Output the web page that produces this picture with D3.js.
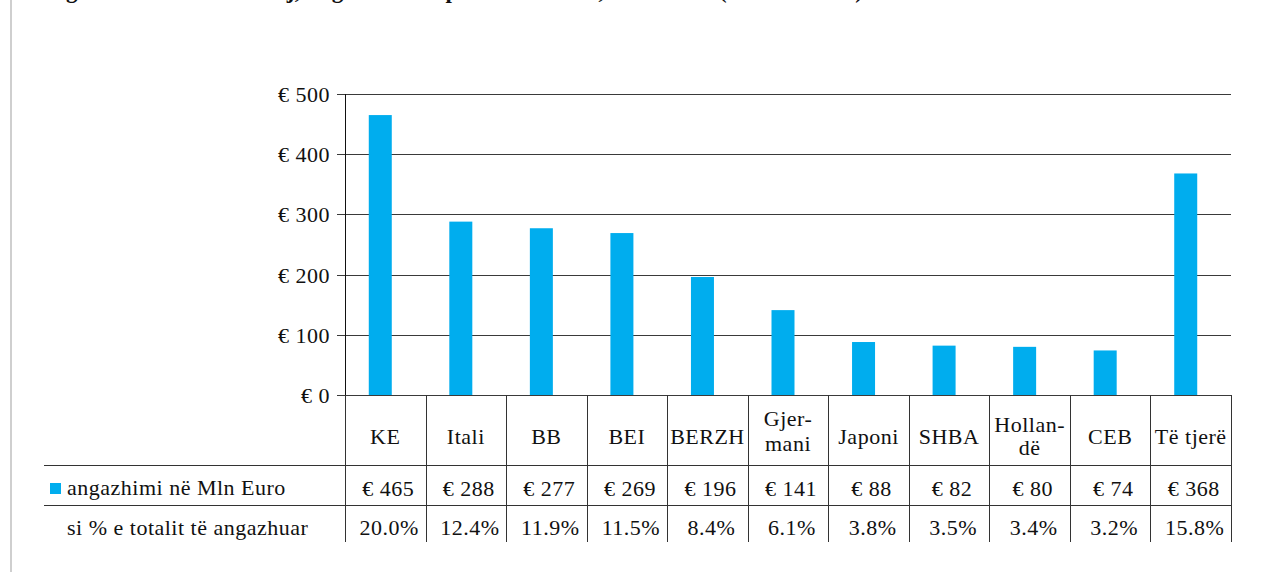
<!DOCTYPE html>
<html lang='sq'>
<head>
  <meta charset='UTF-8'>
  <title>Angazhimet sipas donatorëve</title>
  <style>
  body {
    margin: 0;
    background: #fff;
  }
  text {
    font-family: 'Liberation Serif', 'DejaVu Serif', serif;
    font-size: 22px;
    letter-spacing: 0.5px;
    fill: #111;
  }
  .title {
    font-weight: bold;
    font-size: 23px;
    letter-spacing: 0.3px;
  }
  .grid line {
    stroke: #3a3a3a;
  }
  .table line {
    stroke: #333;
  }
  </style>
  <script src='https://d3js.org/d3.v7.min.js'></script>
</head>
<body>
  <script>

  var categories = ['KE', 'Itali', 'BB', 'BEI', 'BERZH', 'Gjer-|mani', 'Japoni', 'SHBA', 'Hollan-|dë', 'CEB', 'Të tjerë'];
  var commitments = [465, 288, 277, 269, 196, 141, 88, 82, 80, 74, 368];
  var shares = ['20.0%', '12.4%', '11.9%', '11.5%', '8.4%', '6.1%', '3.8%', '3.5%', '3.4%', '3.2%', '15.8%'];
  var yTicks = [0, 100, 200, 300, 400, 500];
  var rowLabels = ['angazhimi në Mln Euro', 'si % e totalit të angazhuar'];

  var svgWidth = 1279, svgHeight = 572;
  var svg = d3.select('body').append('svg')
    .attr('width', svgWidth)
    .attr('height', svgHeight);

  // page border on the left
  svg.append('rect')
    .attr('x', 10).attr('y', 0)
    .attr('width', 2).attr('height', svgHeight)
    .attr('fill', '#cfcfcf');

  // title, cut off at the top of the page (only descenders show)
  svg.append('text')
    .attr('class', 'title')
    .attr('x', 45)
    .attr('y', -2.5)
    .text('Figura 4: Ndihma e huaj, angazhimet sipas donatorëve, 2000-2006 (në Mln Euro)');

  var plotLeft = 345, plotRight = 1231, plotTop = 94, plotBase = 395;
  var rowTop = 465, rowMid = 505, rowBottom = 542, tableLeft = 44;

  var x = d3.scaleBand().domain(d3.range(categories.length)).range([plotLeft, plotRight]);
  var y = d3.scaleLinear().domain([0, 500]).range([plotBase, plotTop]);
  var step = x.step();
  var barWidth = 23;

  // gridlines
  svg.append('g')
    .attr('class', 'grid')
    .selectAll('line')
    .data(yTicks)
    .enter()
    .append('line')
    .attr('x1', plotLeft - 8)
    .attr('x2', plotRight)
    .attr('y1', function (d) { return Math.round(y(d)) + 0.5; })
    .attr('y2', function (d) { return Math.round(y(d)) + 0.5; });

  // y labels
  svg.append('g')
    .selectAll('text')
    .data(yTicks)
    .enter()
    .append('text')
    .attr('x', plotLeft - 15)
    .attr('y', function (d) { return y(d) + 8; })
    .attr('text-anchor', 'end')
    .text(function (d) { return '€ ' + d; });

  // bars
  svg.append('g')
    .selectAll('rect')
    .data(commitments)
    .enter()
    .append('rect')
    .attr('x', function (d, i) { return x(i) + (step - barWidth) / 2 - 5; })
    .attr('y', function (d) { return y(d); })
    .attr('width', barWidth)
    .attr('height', function (d) { return plotBase - y(d); })
    .attr('fill', '#00adee');

  // y axis line
  svg.append('line')
    .attr('x1', plotLeft + 0.5).attr('x2', plotLeft + 0.5)
    .attr('y1', plotTop).attr('y2', plotBase)
    .attr('stroke', '#111');

  // data table
  var table = svg.append('g').attr('class', 'table');

  table.selectAll('.vline')
    .data(d3.range(categories.length + 1))
    .enter()
    .append('line')
    .attr('class', 'vline')
    .attr('x1', function (i) { return Math.round(plotLeft + i * step) + 0.5; })
    .attr('x2', function (i) { return Math.round(plotLeft + i * step) + 0.5; })
    .attr('y1', plotBase)
    .attr('y2', rowBottom);

  table.append('line')
    .attr('x1', tableLeft).attr('x2', plotRight)
    .attr('y1', rowTop + 0.5).attr('y2', rowTop + 0.5)
    .attr('stroke', '#666');

  table.append('line')
    .attr('x1', tableLeft).attr('x2', plotRight)
    .attr('y1', rowMid + 0.5).attr('y2', rowMid + 0.5);

  // category labels (two-line ones are hyphenated)
  svg.append('g')
    .selectAll('text')
    .data(categories)
    .enter()
    .append('text')
    .attr('text-anchor', 'middle')
    .attr('x', function (d, i) { return x(i) + step / 2; })
    .attr('y', function (d) {
      if (d.indexOf('Gjer') === 0) return 426;
      if (d.indexOf('Hollan') === 0) return 432;
      return 444;
    })
    .each(function (d) {
      var parts = d.split('|');
      var t = d3.select(this);
      var gap = d.indexOf('Gjer') === 0 ? 25 : 23;
      parts.forEach(function (p, k) {
        t.append('tspan')
          .attr('x', t.attr('x'))
          .attr('dy', k === 0 ? 0 : gap)
          .text(p);
      });
    });

  // row values
  svg.append('g')
    .selectAll('text')
    .data(commitments)
    .enter()
    .append('text')
    .attr('text-anchor', 'middle')
    .attr('x', function (d, i) { return x(i) + step / 2 + 3; })
    .attr('y', 496)
    .text(function (d) { return '€ ' + d; });

  svg.append('g')
    .selectAll('text')
    .data(shares)
    .enter()
    .append('text')
    .attr('text-anchor', 'middle')
    .attr('x', function (d, i) { return x(i) + step / 2 + 4; })
    .attr('y', 535)
    .text(function (d) { return d; });

  // row labels
  svg.append('rect')
    .attr('x', 50).attr('y', 483)
    .attr('width', 11).attr('height', 11)
    .attr('fill', '#00adee');

  svg.append('text')
    .attr('x', 67).attr('y', 495)
    .text(rowLabels[0]);

  svg.append('text')
    .attr('x', 67).attr('y', 535)
    .text(rowLabels[1]);
  </script>
</body>
</html>
